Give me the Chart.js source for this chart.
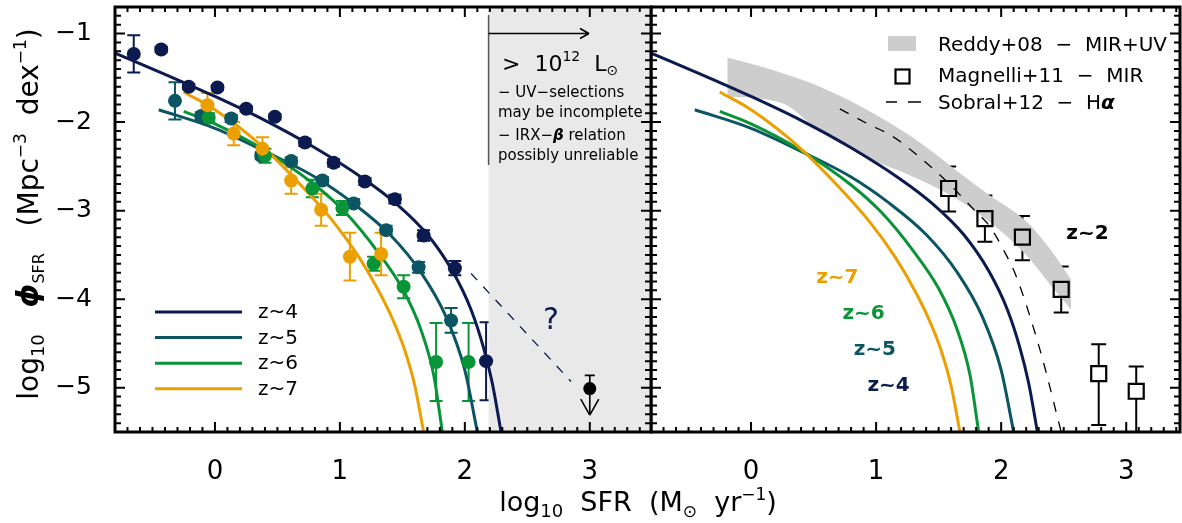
<!DOCTYPE html>
<html>
<head>
<meta charset="utf-8">
<script src="https://cdn.jsdelivr.net/npm/chart.js@4.4.1/dist/chart.umd.min.js"></script>
<style>
  html, body { margin: 0; padding: 0; background: #fff; }
  #wrap { position: relative; width: 1182px; height: 523px; overflow: hidden; }
  #wrap canvas { position: absolute; top: 0; }
  #leftChart { left: 0; }
  #rightChart { left: 650px; }
</style>
</head>
<body>
<div id="wrap">
  <canvas id="leftChart" width="1182" height="523"></canvas>
  <canvas id="rightChart" width="532" height="523"></canvas>
</div>
<script>
// axis ranges (log10 SFR, log10 phi)
const xMin = -0.8;
const xMaxLeft = 3.49;
const xMaxRight = 3.43;
const yMin = -5.5;
const yMax = -0.7;
const lumCut = 2.19; // > 10^12 Lsun shading

// observed SFR functions, left panel
const z4X = [-0.65, -0.43, -0.21, 0.02, 0.25, 0.48, 0.72, 0.95, 1.20, 1.44, 1.67, 1.92, 2.17];
const z4Y = [-1.23, -1.18, -1.60, -1.61, -1.85, -1.94, -2.23, -2.46, -2.67, -2.87, -3.28, -3.65, -4.70];
const z4Err = [0.21, 0.03, 0.03, 0.03, 0.03, 0.03, 0.04, 0.04, 0.04, 0.05, 0.06, 0.08, 0.44];

const z5X = [-0.32, -0.11, 0.13, 0.37, 0.61, 0.86, 1.11, 1.37, 1.63, 1.89];
const z5Y = [-1.76, -1.93, -1.96, -2.38, -2.44, -2.66, -2.92, -3.22, -3.64, -4.24];
const z5Err = [0.21, 0.04, 0.04, 0.04, 0.04, 0.04, 0.05, 0.05, 0.06, 0.14];

const z6X = [-0.05, 0.40, 0.78, 1.02, 1.27, 1.51, 1.77, 2.03];
const z6Y = [-1.95, -2.38, -2.75, -2.97, -3.60, -3.86, -4.71, -4.71];
const z6Err = [0.05, 0.08, 0.10, 0.08, 0.08, 0.13, 0.44, 0.44];

const z7X = [-0.06, 0.15, 0.38, 0.61, 0.85, 1.08, 1.33];
const z7Y = [-1.81, -2.13, -2.30, -2.66, -2.99, -3.52, -3.49];
const z7Err = [0.14, 0.13, 0.13, 0.15, 0.18, 0.27, 0.24];

// upper limit point and the dashed "?" extrapolation
const limitX = [3.0];
const limitY = [-5.01];
const limitErr = [0.15];
const limitArrow = 0.30;
const extrapX = [2.05, 2.85];
const extrapY = [-3.71, -4.93];

// Schechter fits (same curves in both panels)
const fitZ4X = [-0.8, -0.4, 0, 0.4, 0.8, 1.2, 1.45, 1.7, 1.9, 2.05, 2.15, 2.22, 2.29];
const fitZ4Y = [-1.22, -1.46, -1.71, -1.98, -2.29, -2.65, -2.92, -3.27, -3.68, -4.12, -4.55, -4.95, -5.5];
const fitZ5X = [-0.45, 0, 0.4, 0.8, 1.1, 1.4, 1.65, 1.85, 2.0, 2.1];
const fitZ5Y = [-1.86, -2.07, -2.33, -2.62, -2.91, -3.27, -3.70, -4.20, -4.80, -5.5];
const fitZ6X = [-0.25, 0, 0.4, 0.8, 1.05, 1.3, 1.5, 1.65, 1.75, 1.82];
const fitZ6Y = [-1.88, -2.02, -2.32, -2.71, -3.03, -3.46, -3.88, -4.35, -4.85, -5.5];
const fitZ7X = [-0.25, 0, 0.35, 0.7, 0.95, 1.15, 1.3, 1.42, 1.52, 1.6, 1.67];
const fitZ7Y = [-1.66, -1.86, -2.24, -2.73, -3.13, -3.52, -3.88, -4.22, -4.58, -4.98, -5.5];

// z~2 comparisons, right panel
const reddyX = [-0.19, 0.1, 0.3, 0.5, 0.9, 1.3, 1.6, 1.9, 2.2, 2.4, 2.56];
const reddyHi = [-1.27, -1.38, -1.47, -1.57, -1.84, -2.18, -2.5, -2.82, -3.12, -3.45, -3.78];
const reddyLo = [-1.71, -1.74, -1.82, -2.05, -2.38, -2.62, -2.83, -3.12, -3.5, -3.85, -4.12];

const magX = [1.58, 1.87, 2.17, 2.48, 2.78, 3.08];
const magY = [-2.75, -3.09, -3.30, -3.89, -4.84, -5.04];
const magUp = [0.25, 0.26, 0.24, 0.26, 0.33, 0.28];
const magDn = [0.26, 0.26, 0.26, 0.26, 0.58, 0.50];

const sobralX = [0.71, 0.92, 1.13, 1.3, 1.55, 1.79, 1.91, 2.04, 2.12, 2.31, 2.48];
const sobralY = [-1.85, -2.01, -2.16, -2.34, -2.65, -3.0, -3.18, -3.50, -3.74, -4.57, -5.5];

const FONT = '"DejaVu Sans", sans-serif';
const NAVY = '#0b1a4f';
const TEAL = '#0c5664';
const GREEN = '#0a9438';
const ORANGE = '#eb9f00';

Chart.defaults.font.family = FONT;
Chart.defaults.color = '#000';

const xy = (xs, ys) => xs.map((x, i) => ({ x, y: ys[i] }));
const f = (size, style = '') => `${style} ${size}px ${FONT}`.trim();

function pts(xs, ys, color, order) {
  return { data: xy(xs, ys), pointRadius: 7, pointBackgroundColor: color, pointBorderWidth: 0, order };
}

function curve(xs, ys, color, order) {
  return {
    data: xy(xs, ys), showLine: true, borderColor: color, borderWidth: 3, pointRadius: 0,
    cubicInterpolationMode: 'monotone', clip: 0, order,
  };
}

function drawRuns(ctx, runs, x, y, align) {
  let w = 0;
  runs.forEach((r) => { ctx.font = r.f; w += ctx.measureText(r.t).width; });
  let cx = align === 'center' ? x - w / 2 : x;
  ctx.textAlign = 'left';
  ctx.textBaseline = 'alphabetic';
  runs.forEach((r) => {
    ctx.font = r.f;
    ctx.fillText(r.t, cx, y + (r.dy || 0));
    cx += ctx.measureText(r.t).width;
  });
}

function seg(ctx, x1, y1, x2, y2) {
  ctx.moveTo(x1, y1);
  ctx.lineTo(x2, y2);
}

// inward ticks on all four sides plus the thick frame
const framePlugin = {
  id: 'frame',
  afterDraw(chart) {
    const { ctx, chartArea: a, scales: { x, y } } = chart;
    ctx.save();
    ctx.strokeStyle = '#000';
    ctx.lineWidth = 2;
    ctx.beginPath();
    for (let i = Math.ceil(x.min * 10 - 1e-6); i <= Math.floor(x.max * 10 + 1e-6); i++) {
      const px = x.getPixelForValue(i / 10);
      const len = i % 10 === 0 ? 10 : 5;
      seg(ctx, px, a.bottom, px, a.bottom - len);
      seg(ctx, px, a.top, px, a.top + len);
    }
    for (let i = Math.ceil(y.min * 10 - 1e-6); i <= Math.floor(y.max * 10 + 1e-6); i++) {
      const py = y.getPixelForValue(i / 10);
      const len = i % 10 === 0 ? 10 : 6;
      seg(ctx, a.left, py, a.left + len, py);
      seg(ctx, a.right, py, a.right - len, py);
    }
    ctx.stroke();
    ctx.lineWidth = 3;
    ctx.strokeRect(a.left, a.top, a.right - a.left, a.bottom - a.top);
    ctx.restore();
  },
};

const errorBarPlugin = {
  id: 'errorBars',
  beforeDatasetsDraw(chart, args, opts) {
    const { ctx, chartArea: a, scales: { x, y } } = chart;
    ctx.save();
    ctx.beginPath();
    ctx.rect(a.left, a.top, a.right - a.left, a.bottom - a.top);
    ctx.clip();
    (opts.sets || []).forEach((s) => {
      ctx.strokeStyle = s.color;
      ctx.lineWidth = 2;
      ctx.beginPath();
      s.x.forEach((xv, i) => {
        const px = x.getPixelForValue(xv);
        const pc = y.getPixelForValue(s.y[i]);
        const top = y.getPixelForValue(s.y[i] + s.up[i]);
        const bot = y.getPixelForValue(s.y[i] - s.dn[i]);
        const gap = s.gap || 0;
        const cap = s.cap || 6.5;
        if (gap) {
          seg(ctx, px, top, px, pc - gap);
          seg(ctx, px, pc + gap, px, bot);
        } else {
          seg(ctx, px, top, px, bot);
        }
        seg(ctx, px - cap, top, px + cap, top);
        seg(ctx, px - cap, bot, px + cap, bot);
      });
      ctx.stroke();
    });
    ctx.restore();
  },
};

const leftNotes = {
  id: 'leftNotes',
  beforeDatasetsDraw(chart) {
    const { ctx, chartArea: a, scales: { x } } = chart;
    const gx = x.getPixelForValue(lumCut);
    ctx.save();
    ctx.fillStyle = '#e9e9e9';
    ctx.fillRect(gx, a.top, a.right - gx, a.bottom - a.top);
    ctx.restore();
  },
  afterDatasetsDraw(chart) {
    const { ctx, scales: { x, y } } = chart;
    ctx.save();
    ctx.fillStyle = '#000';
    ctx.strokeStyle = '#000';

    // upper limit: cap above, arrow below
    const lx = x.getPixelForValue(limitX[0]);
    const ly = y.getPixelForValue(limitY[0]);
    const lt = y.getPixelForValue(limitY[0] + limitErr[0]);
    const lb = y.getPixelForValue(limitY[0] - limitArrow);
    ctx.lineWidth = 1.6;
    ctx.beginPath();
    seg(ctx, lx, lt, lx, lb);
    seg(ctx, lx - 5, lt, lx + 5, lt);
    seg(ctx, lx - 9, lb - 16, lx, lb);
    seg(ctx, lx + 9, lb - 16, lx, lb);
    ctx.stroke();
    ctx.beginPath();
    ctx.arc(lx, ly, 6.5, 0, Math.PI * 2);
    ctx.fill();

    // question mark
    ctx.fillStyle = NAVY;
    ctx.font = f(30);
    ctx.textAlign = 'center';
    ctx.textBaseline = 'middle';
    ctx.fillText('?', x.getPixelForValue(2.69), y.getPixelForValue(-4.25));

    // luminosity annotation
    const gx = x.getPixelForValue(lumCut);
    ctx.strokeStyle = '#555';
    ctx.lineWidth = 1.5;
    ctx.beginPath();
    seg(ctx, gx, 15, gx, 165);
    ctx.stroke();
    ctx.strokeStyle = '#000';
    ctx.beginPath();
    seg(ctx, gx, 33.5, 589, 33.5);
    seg(ctx, 580, 28.5, 589, 33.5);
    seg(ctx, 580, 38.5, 589, 33.5);
    ctx.stroke();
    ctx.fillStyle = '#000';
    drawRuns(ctx, [
      { t: '>  10', f: f(22) }, { t: '12', f: f(14), dy: -10 }, { t: '  L', f: f(22) }, { t: '\u2299', f: f(14), dy: 4 },
    ], 502, 71, 'left');
    drawRuns(ctx, [{ t: '\u2212 UV\u2212selections', f: f(15) }], 498, 97, 'left');
    drawRuns(ctx, [{ t: 'may be incomplete', f: f(15) }], 498, 117, 'left');
    drawRuns(ctx, [
      { t: '\u2212 IRX\u2212', f: f(15) }, { t: '\u03b2', f: f(15, 'italic bold') }, { t: ' relation', f: f(15) },
    ], 498, 140, 'left');
    drawRuns(ctx, [{ t: 'possibly unreliable', f: f(15) }], 498, 160, 'left');

    // legend
    const rows = [['z~4', NAVY], ['z~5', TEAL], ['z~6', GREEN], ['z~7', ORANGE]];
    rows.forEach(([label, color], i) => {
      const ry = 312 + i * 25.6;
      ctx.strokeStyle = color;
      ctx.lineWidth = 3;
      ctx.beginPath();
      seg(ctx, 155, ry, 242, ry);
      ctx.stroke();
      ctx.fillStyle = '#000';
      ctx.font = f(20);
      ctx.textAlign = 'left';
      ctx.textBaseline = 'middle';
      ctx.fillText(label, 258, ry + 1);
    });

    // axis titles
    ctx.fillStyle = '#000';
    drawRuns(ctx, [
      { t: 'log', f: f(27) }, { t: '10', f: f(18), dy: 6 }, { t: '  SFR  (M', f: f(27) },
      { t: '\u2299', f: f(17), dy: 6 }, { t: '  yr', f: f(27) }, { t: '\u22121', f: f(17), dy: -11 }, { t: ')', f: f(27) },
    ], 638, 511, 'center');
    ctx.translate(38, 214);
    ctx.rotate(-Math.PI / 2);
    drawRuns(ctx, [
      { t: 'log', f: f(28) }, { t: '10', f: f(18), dy: 6 }, { t: '   ', f: f(28) },
      { t: '\u03d5', f: f(30, 'italic bold') }, { t: 'SFR', f: f(16), dy: 6 }, { t: '   (Mpc', f: f(28) },
      { t: '\u22123', f: f(17), dy: -12 }, { t: '  dex', f: f(28) }, { t: '\u22121', f: f(17), dy: -12 }, { t: ')', f: f(28) },
    ], 0, 0, 'center');
    ctx.restore();
  },
};

const rightNotes = {
  id: 'rightNotes',
  afterDatasetsDraw(chart) {
    const { ctx, scales: { x, y } } = chart;
    const ox = 650; // canvas offset on the page
    ctx.save();
    // legend
    ctx.fillStyle = '#cdcdcd';
    ctx.fillRect(888 - ox, 36, 28, 15);
    ctx.strokeStyle = '#000';
    ctx.lineWidth = 2.2;
    ctx.strokeRect(895.5 - ox, 69.5, 14, 14);
    ctx.lineWidth = 1.4;
    ctx.beginPath();
    seg(ctx, 886 - ox, 102, 897 - ox, 102);
    seg(ctx, 908 - ox, 102, 921 - ox, 102);
    ctx.stroke();
    ctx.fillStyle = '#000';
    drawRuns(ctx, [{ t: 'Reddy+08  \u2212  MIR+UV', f: f(20) }], 938 - ox, 51, 'left');
    drawRuns(ctx, [{ t: 'Magnelli+11  \u2212  MIR', f: f(20) }], 938 - ox, 82, 'left');
    drawRuns(ctx, [{ t: 'Sobral+12  \u2212  H', f: f(20) }, { t: '\u03b1', f: f(20, 'italic bold') }], 938 - ox, 109, 'left');

    // redshift labels
    const labels = [['z~2', '#000', 2.69, -3.26], ['z~7', ORANGE, 0.69, -3.76], ['z~6', GREEN, 0.90, -4.17],
      ['z~5', TEAL, 0.99, -4.57], ['z~4', NAVY, 1.10, -4.98]];
    ctx.font = f(20, 'bold');
    ctx.textAlign = 'center';
    ctx.textBaseline = 'middle';
    labels.forEach(([t, c, lx, ly]) => {
      ctx.fillStyle = c;
      ctx.fillText(t, x.getPixelForValue(lx), y.getPixelForValue(ly));
    });
    ctx.restore();
  },
};

// keep Chart.js from adding label overhang padding to the plot box
function fixBox(s, size) {
  if (s.isHorizontal()) s.height = size; else s.width = size;
  s.paddingTop = 0;
  s.paddingBottom = 0;
  s.paddingLeft = 0;
  s.paddingRight = 0;
}

function baseOptions(xMaxVal, showY, padding, errSets) {
  return {
    responsive: false,
    animation: false,
    events: [],
    layout: { padding, autoPadding: false },
    plugins: {
      legend: { display: false },
      tooltip: { enabled: false },
      errorBars: { sets: errSets },
    },
    scales: {
      x: {
        type: 'linear', min: xMin, max: xMaxVal,
        grid: { display: false }, border: { display: false },
        ticks: { stepSize: 1, includeBounds: false, padding: 17, font: { size: 26 }, color: '#000', maxRotation: 0 },
        afterFit: (s) => fixBox(s, 91),
      },
      y: {
        type: 'linear', min: yMin, max: yMax, display: showY,
        grid: { display: false }, border: { display: false },
        ticks: {
          stepSize: 1, includeBounds: false, padding: 15, font: { size: 25 }, color: '#000',
          callback: (v) => String(v).replace('-', '\u2212'),
        },
        afterFit: (s) => fixBox(s, showY ? 115 : 0),
      },
    },
  };
}

function initLeftChart() {
  const datasets = [
    pts(z7X, z7Y, ORANGE, 1.0),
    pts(z6X, z6Y, GREEN, 1.1),
    pts(z5X, z5Y, TEAL, 1.2),
    pts(z4X, z4Y, NAVY, 1.3),
    curve(fitZ7X, fitZ7Y, ORANGE, 3.0),
    curve(fitZ6X, fitZ6Y, GREEN, 3.1),
    curve(fitZ5X, fitZ5Y, TEAL, 3.2),
    curve(fitZ4X, fitZ4Y, NAVY, 3.3),
    {
      data: xy(extrapX, extrapY), showLine: true, borderColor: NAVY, borderWidth: 1.3,
      borderDash: [9, 9], pointRadius: 0, order: 4,
    },
  ];
  const errSets = [
    { x: z4X, y: z4Y, up: z4Err, dn: z4Err, color: NAVY },
    { x: z5X, y: z5Y, up: z5Err, dn: z5Err, color: TEAL },
    { x: z6X, y: z6Y, up: z6Err, dn: z6Err, color: GREEN },
    { x: z7X, y: z7Y, up: z7Err, dn: z7Err, color: ORANGE },
  ];
  new Chart(document.getElementById('leftChart'), {
    type: 'scatter',
    data: { datasets },
    options: baseOptions(xMaxLeft, true, { top: 7, right: 531, bottom: 0, left: 0 }, errSets),
    plugins: [errorBarPlugin, leftNotes, framePlugin],
  });
}

function initRightChart() {
  const datasets = [
    {
      data: xy(magX, magY), pointStyle: 'rect', pointRadius: 10.6, pointBorderWidth: 2.2,
      pointBorderColor: '#000', pointBackgroundColor: 'rgba(0,0,0,0)', order: 1,
    },
    curve(fitZ7X, fitZ7Y, ORANGE, 3.0),
    curve(fitZ6X, fitZ6Y, GREEN, 3.1),
    curve(fitZ5X, fitZ5Y, TEAL, 3.2),
    curve(fitZ4X, fitZ4Y, NAVY, 3.3),
    {
      data: xy(sobralX, sobralY), showLine: true, borderColor: '#000', borderWidth: 1.3,
      borderDash: [10, 10], pointRadius: 0, cubicInterpolationMode: 'monotone', clip: 0, order: 4,
    },
    {
      data: xy(reddyX, reddyHi), showLine: true, borderWidth: 0, pointRadius: 0,
      backgroundColor: '#cdcdcd', fill: '+1', cubicInterpolationMode: 'monotone', order: 9,
    },
    {
      data: xy(reddyX, reddyLo), showLine: true, borderWidth: 0, pointRadius: 0,
      cubicInterpolationMode: 'monotone', order: 10,
    },
  ];
  const errSets = [{ x: magX, y: magY, up: magUp, dn: magDn, color: '#000', gap: 7.5, cap: 7.5 }];
  new Chart(document.getElementById('rightChart'), {
    type: 'scatter',
    data: { datasets },
    options: baseOptions(xMaxRight, false, { top: 7, right: 2, bottom: 0, left: 1 }, errSets),
    plugins: [errorBarPlugin, rightNotes, framePlugin],
  });
}

window.addEventListener('DOMContentLoaded', () => {
  initLeftChart();
  initRightChart();
});
</script>
</body>
</html>
